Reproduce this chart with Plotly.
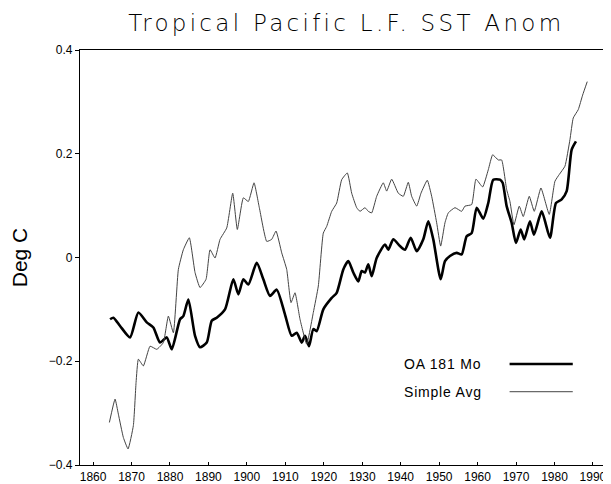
import plotly.graph_objects as go

# OA 181 Mo (thick line)
oa_years = [1864.42, 1865.28, 1867.02, 1869.62, 1871.78, 1873.96, 1875.68, 1877.42, 1879.16, 1880.46,
            1882.62, 1883.48, 1884.78, 1886.52, 1887.82, 1889.56, 1890.86, 1892.16, 1894.32, 1896.48,
            1897.78, 1899.08, 1900.38, 1902.56, 1904.28, 1906.02, 1907.76, 1909.92, 1911.66, 1912.96,
            1914.26, 1915.12, 1916.16, 1917.28, 1918.16, 1919.88, 1922.06, 1923.36, 1925.08, 1926.38,
            1927.68, 1928.98, 1929.86, 1930.72, 1931.58, 1932.46, 1933.76, 1935.92, 1936.78, 1938.08,
            1939.82, 1941.12, 1942.6, 1944.17, 1945.88, 1947.18, 1948.48, 1950.4, 1951.52, 1952.82,
            1954.56, 1955.86, 1957.16, 1958.46, 1959.77, 1961.48, 1962.78, 1964.08, 1965.82, 1966.52,
            1967.56, 1968.86, 1969.98, 1971.2, 1972.14, 1973.62, 1974.66, 1976.67, 1978.83, 1980.39,
            1981.87, 1983.17, 1984.47, 1985.59]
oa_values = [-0.119, -0.116, -0.132, -0.154, -0.106, -0.125, -0.135, -0.164, -0.154, -0.177,
             -0.119, -0.113, -0.081, -0.151, -0.173, -0.164, -0.122, -0.116, -0.100, -0.042,
             -0.071, -0.042, -0.052, -0.010, -0.042, -0.074, -0.062, -0.110, -0.151, -0.145,
             -0.164, -0.151, -0.171, -0.138, -0.142, -0.100, -0.078, -0.068, -0.023, -0.007,
             -0.029, -0.046, -0.026, -0.029, -0.013, -0.036, -0.001, 0.025, 0.015, 0.035,
             0.022, 0.015, 0.038, 0.012, 0.035, 0.070, 0.035, -0.042, -0.007, 0.003,
             0.009, 0.006, 0.041, 0.047, 0.096, 0.075, 0.105, 0.150, 0.150, 0.144,
             0.099, 0.067, 0.028, 0.054, 0.035, 0.070, 0.044, 0.089, 0.038, 0.105,
             0.112, 0.128, 0.208, 0.224]

# Simple Avg (thin line)
sa_years = [1864.24, 1865.72, 1866.58, 1867.88, 1869.1, 1870.48, 1871.18, 1871.78, 1873.08, 1874.82,
            1876.56, 1878.28, 1879.58, 1880.88, 1882.18, 1883.48, 1885.04, 1886.52, 1887.82, 1889.38,
            1890.42, 1891.72, 1893.02, 1894.76, 1896.32, 1897.52, 1899.08, 1900.38, 1901.86, 1903.24,
            1905.16, 1906.46, 1907.58, 1909.06, 1910.36, 1911.48, 1912.52, 1913.82, 1915.56, 1917.28,
            1918.58, 1919.88, 1920.76, 1922.06, 1923.36, 1924.66, 1926.12, 1927.26, 1928.56, 1929.42,
            1930.72, 1931.58, 1932.46, 1933.76, 1935.48, 1936.36, 1937.66, 1939.38, 1940.68, 1941.98,
            1942.86, 1944.17, 1945.28, 1946.92, 1948.06, 1949.36, 1950.4, 1951.52, 1952.38, 1954.12,
            1955.86, 1956.72, 1958.46, 1959.58, 1961.32, 1962.78, 1963.92, 1965.38, 1966.26, 1967.56,
            1968.42, 1969.46, 1970.84, 1971.88, 1973.44, 1974.74, 1976.48, 1978.64, 1980.12, 1981.24,
            1982.72, 1984.02, 1984.88, 1986.18, 1987.32, 1988.52]
sa_values = [-0.318, -0.273, -0.302, -0.347, -0.369, -0.324, -0.241, -0.196, -0.209, -0.171,
             -0.177, -0.164, -0.113, -0.145, -0.023, 0.015, 0.038, -0.029, -0.058, -0.042,
             0.015, -0.001, 0.035, 0.057, 0.124, 0.054, 0.115, 0.108, 0.144, 0.096,
             0.031, 0.035, 0.051, 0.009, -0.023, -0.087, -0.068, -0.119, -0.167, -0.106,
             -0.055, 0.047, 0.060, 0.089, 0.105, 0.150, 0.163, 0.124, 0.096, 0.089,
             0.096, 0.089, 0.086, 0.118, 0.144, 0.128, 0.151, 0.124, 0.118, 0.145,
             0.118, 0.099, 0.124, 0.149, 0.118, 0.067, 0.022, 0.067, 0.086, 0.096,
             0.089, 0.099, 0.102, 0.151, 0.136, 0.169, 0.198, 0.188, 0.188, 0.131,
             0.108, 0.063, 0.099, 0.079, 0.118, 0.089, 0.134, 0.083, 0.147, 0.160,
             0.176, 0.227, 0.269, 0.285, 0.313, 0.339]

x_ticks = [1860, 1870, 1880, 1890, 1900, 1910, 1920, 1930, 1940, 1950, 1960, 1970, 1980, 1990]
y_ticks = [-0.4, -0.2, 0, 0.2, 0.4]
y_tick_text = ["\u22120.4", "\u22120.2", "0", "0.2", "0.4"]
series_names = ["OA 181 Mo", "Simple Avg"]
title_text = "Tropical Pacific L.F. SST Anom"

FONT = "Liberation Sans"

fig = go.Figure()
fig.add_trace(go.Scatter(x=oa_years, y=oa_values, mode="lines", name=series_names[0],
                         line=dict(color="black", width=2.6, shape="spline", smoothing=0.6)))
fig.add_trace(go.Scatter(x=sa_years, y=sa_values, mode="lines", name=series_names[1],
                         line=dict(color="#444444", width=1.0, shape="spline", smoothing=0.4)))

# legend drawn as text + line samples (text left of line, as in original)
legend_rows = [(0.2434, 2.6, "black"), (0.1766, 1.0, "#444444")]
for name, (py, w, c) in zip(series_names, legend_rows):
    fig.add_annotation(x=0.607, y=py, xref="paper", yref="paper",
                       text='<span style="letter-spacing:0.8px">' + name + '</span>', showarrow=False,
                       xanchor="left", yanchor="middle", font=dict(family=FONT, size=14, color="black"))
    fig.add_shape(type="line", xref="paper", yref="paper", x0=0.809, x1=0.928, y0=py, y1=py,
                  line=dict(color=c, width=w))

fig.update_layout(
    width=603, height=476,
    margin=dict(l=72, r=0, t=42, b=19),
    paper_bgcolor="white", plot_bgcolor="white",
    showlegend=False,
    title=dict(text='<span style="letter-spacing:3.3px">' + title_text + '</span>',
               x=0.561, xanchor="center", y=0.9685, yanchor="middle", yref="container",
               font=dict(family="DejaVu Sans", size=23, color="black", weight=300)),
    font=dict(family=FONT, color="black"),
)
fig.update_xaxes(range=[1856.6, 1994.7], tickvals=x_ticks, showgrid=False, zeroline=False,
                 showline=True, linecolor="black", linewidth=1.2, mirror=True,
                 ticks="inside", ticklen=3, tickcolor="black", automargin=False,
                 tickfont=dict(family=FONT, size=12, color="black"))
fig.update_yaxes(range=[-0.4, 0.4], tickvals=y_ticks, ticktext=y_tick_text, showgrid=False,
                 zeroline=False, showline=True, linecolor="black", linewidth=1.2, mirror=True,
                 ticks="outside", ticklen=4, tickcolor="black", automargin=False,
                 tickfont=dict(family=FONT, size=12, color="black"),
                 title=dict(text="Deg C", standoff=30, font=dict(family=FONT, size=21, color="black")))

fig.write_html("out.html")
